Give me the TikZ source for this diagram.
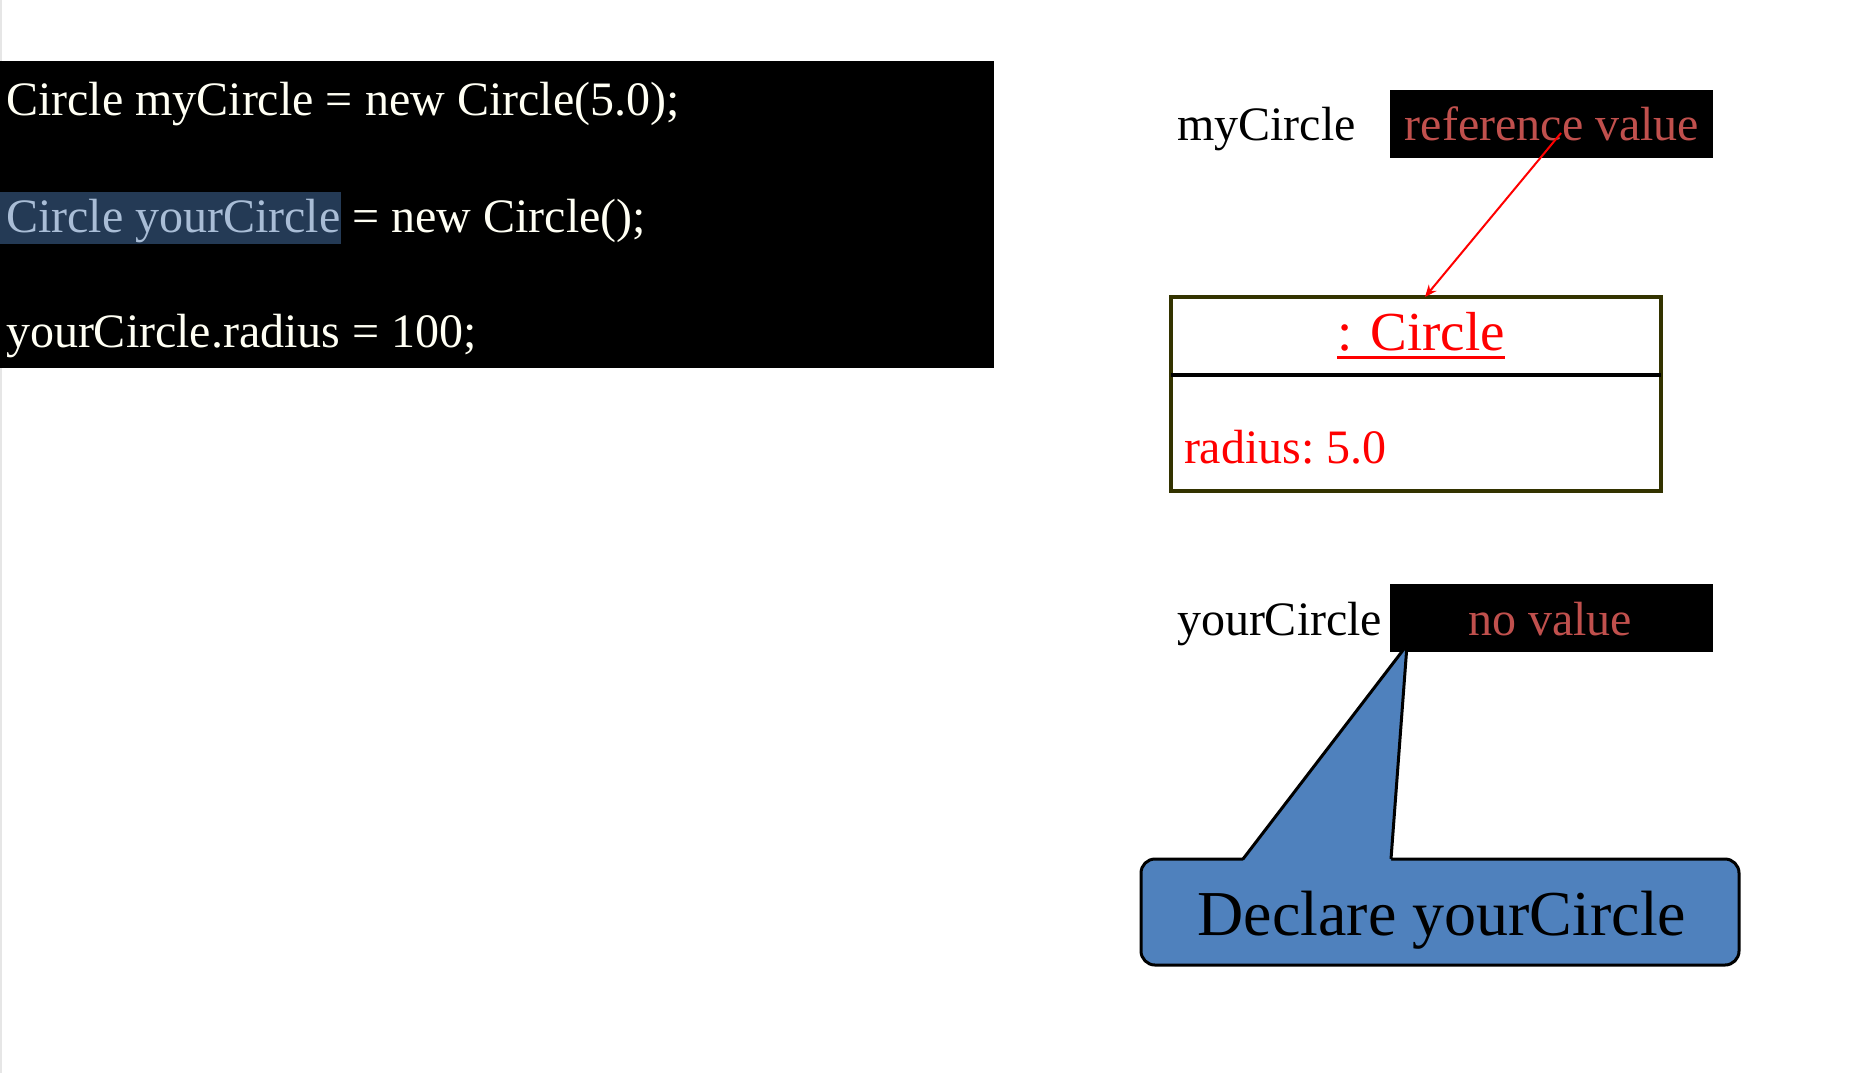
\documentclass[tikz,border=0pt]{standalone}
\usepackage{fontspec}
\setmainfont{Liberation Serif}
\usetikzlibrary{arrows.meta}
\definecolor{codebg}{HTML}{000000}
\definecolor{codefg}{HTML}{FFFFF4}
\definecolor{hlbg}{HTML}{243A55}
\definecolor{hlfg}{HTML}{A9BDD6}
\definecolor{softred}{HTML}{C0504D}
\definecolor{olive}{HTML}{333300}
\definecolor{calloutblue}{HTML}{4F81BD}
\definecolor{edgegray}{HTML}{E6E6E6}
\begin{document}
\begin{tikzpicture}[x=0.5pt,y=-0.5pt,
  every node/.style={inner sep=0pt, outer sep=0pt},
  codetext/.style={anchor=base west, text=codefg, font=\fontsize{24}{28}\selectfont},
  plaintext/.style={anchor=base west, text=black, font=\fontsize{24}{28}\selectfont},
  valbox/.style={fill=black, minimum width=161.5pt, minimum height=34pt},
  valtext/.style={anchor=base, text=softred, font=\fontsize{24}{28}\selectfont},
  objtext/.style={text=red, font=\fontsize{24}{28}\selectfont},
  refarrow/.style={draw=red, line width=1pt, -{Stealth[length=6pt,width=5pt]}},
  calloutline/.style={draw=black, line width=1.5pt, line join=round}
]
\useasboundingbox (0,0) rectangle (1874,1073);
% left edge
\fill[edgegray] (0,0) rectangle (1.5,1073);

% code panel
\node[fill=codebg, anchor=north west, minimum width=497pt, minimum height=153.5pt] (code) at (0,61) {};
\fill[hlbg] (0,192) rectangle (341,244);
\node[codetext] (line1) at (6,115) {Circle myCircle = new Circle(5.0);};
\node[codetext, text=hlfg] (line2a) at (6,232) {Circle yourCircle};
\node[codetext, anchor=base west] (line2b) at (line2a.base east) {\ = new Circle();};
\node[codetext] (line3) at (6,347) {yourCircle.radius = 100;};

% myCircle reference
\node[plaintext] (myname) at (1177,140) {myCircle};
\node[valbox] (refbox) at (1551.5,123.5) {};
\node[valtext] (reftext) at (1552,140) {reference value};

% object box
\node[draw=olive, line width=2pt, minimum width=245pt, minimum height=97pt] (objbox) at (1416,394) {};
\draw[black, line width=2pt] ([yshift=-39pt]objbox.north west) -- ([yshift=-39pt]objbox.north east);
\node[objtext, anchor=base, font=\fontsize{27.5}{32}\selectfont] (objname) at (1421,350) {: Circle};
\draw[red, line width=1.5pt] ([yshift=-3.5pt]objname.base west) -- ([yshift=-3.5pt]objname.base east);
\node[objtext, anchor=base west] (radius) at (1184,463) {radius:\ 5.0};

\coordinate (refptr) at (1561,133);
\draw[refarrow] (refptr) -- ([xshift=4.5pt]objbox.north);

% yourCircle reference
\node[plaintext] (yourname) at (1177,635) {yourCircle};
\node[valbox] (novalbox) at (1551.5,618) {};
\node[valtext] (novaltext) at (1550,635) {no value};

% callout
\node[fill=calloutblue, draw=black, line width=1.5pt, rounded corners=7pt,
      minimum width=299pt, minimum height=53pt] (callout) at (1440,912) {};
\coordinate (tip) at (1407,645);
\fill[calloutblue] (1243,861) -- (tip) -- (1391,861) -- cycle;
\draw[calloutline] (1243,859) -- (tip) -- (1391,859);
\node[anchor=base, font=\fontsize{32}{38}\selectfont] (callouttext) at (1442,935) {Declare yourCircle};
\end{tikzpicture}
\end{document}
